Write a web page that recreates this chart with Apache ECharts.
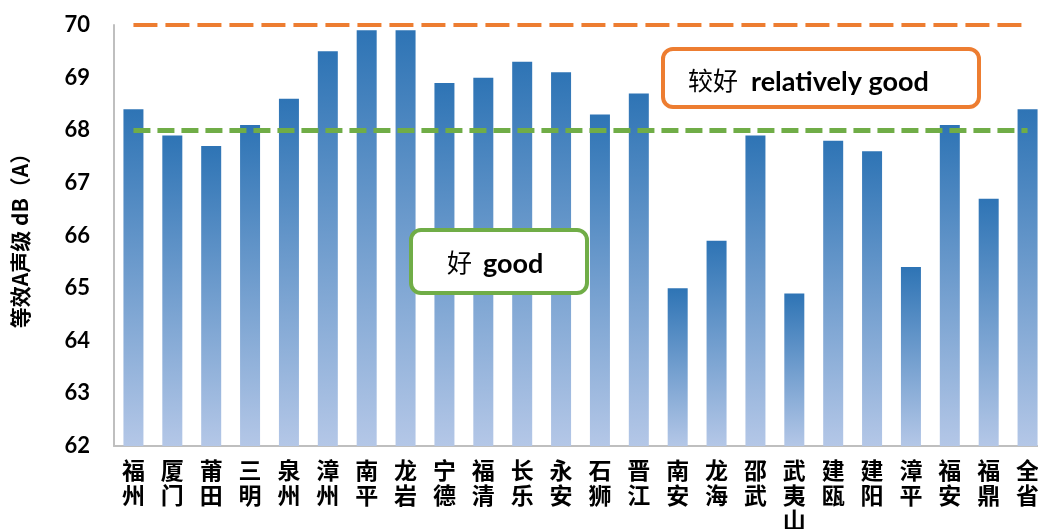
<!DOCTYPE html>
<html>
<head>
<meta charset="utf-8">
<script src="https://cdn.jsdelivr.net/npm/echarts@6/dist/echarts.min.js"></script>
<style>
  html, body { margin: 0; padding: 0; background: #fff; }
  #chart { width: 1038px; height: 529px; }
</style>
</head>
<body>
<div id="chart"></div>
<script>
// 站点与等效A声级
var cities = ['福州', '厦门', '莆田', '三明', '泉州', '漳州', '南平', '龙岩', '宁德', '福清', '长乐', '永安',
    '石狮', '晋江', '南安', '龙海', '邵武', '武夷山', '建瓯', '建阳', '漳平', '福安', '福鼎', '全省'];
var levels = [68.4, 67.9, 67.7, 68.1, 68.6, 69.5, 69.9, 69.9, 68.9, 69.0, 69.3, 69.1,
    68.3, 68.7, 65.0, 65.9, 67.9, 64.9, 67.8, 67.6, 65.4, 68.1, 66.7, 68.4];
var yTicks = [62, 63, 64, 65, 66, 67, 68, 69, 70];
var goodLimit = 68;
var fairLimit = 70;

var chart = echarts.init(document.getElementById('chart'));

var numFont = 'Lato, "Noto Sans CJK SC", sans-serif';
var cjkFont = '"Noto Sans CJK SC", sans-serif';

chart.setOption({
    animation: false,
    grid: { left: 114, right: -9, top: 25, bottom: 83, outerBoundsMode: 'none', containLabel: false },
    xAxis: {
        type: 'category',
        data: cities,
        axisLine: { lineStyle: { color: '#bfbfbf', width: 2 } },
        axisTick: { show: false },
        axisLabel: {
            interval: 0,
            margin: 12,
            color: '#000',
            fontFamily: cjkFont,
            fontWeight: 'bold',
            fontSize: 23,
            lineHeight: 25,
            verticalAlign: 'top',
            formatter: function (v) { return v.split('').join('\n'); }
        }
    },
    yAxis: {
        type: 'value',
        min: yTicks[0],
        max: yTicks[yTicks.length - 1],
        interval: 1,
        name: '等效A声级 dB（A）',
        nameLocation: 'middle',
        nameGap: 83,
        nameTextStyle: { color: '#000', fontFamily: cjkFont, fontWeight: 'bold', fontSize: 21 },
        axisLine: { show: true, lineStyle: { color: '#bfbfbf', width: 2 } },
        axisTick: { show: false },
        splitLine: { show: false },
        axisLabel: { color: '#000', fontFamily: numFont, fontWeight: 'bold', fontSize: 22, margin: 24 }
    },
    series: [{
        type: 'bar',
        data: levels,
        barWidth: 20,
        itemStyle: {
            color: new echarts.graphic.LinearGradient(0, 0, 0, 1, [
                { offset: 0, color: '#2e74b5' },
                { offset: 1, color: '#b4c7e7' }
            ])
        },
        markLine: {
            symbol: 'none',
            silent: true,
            label: { show: false },
            data: [
                [
                    { coord: [cities[0], fairLimit], lineStyle: { color: '#ed7d31', width: 4, type: [24, 8] } },
                    { coord: [cities[cities.length - 1], fairLimit] }
                ],
                [
                    { coord: [cities[0], goodLimit], lineStyle: { color: '#70ad47', width: 5, type: [17, 7] } },
                    { coord: [cities[cities.length - 1], goodLimit] }
                ]
            ]
        }
    }],
    graphic: [
        {
            type: 'group', left: 661, top: 47, z: 100,
            children: [
                { type: 'rect', z: 100, shape: { x: 0, y: 0, width: 316, height: 58, r: 10 },
                  style: { fill: '#fff', stroke: '#ed7d31', lineWidth: 4 } },
                { type: 'text', z: 101, x: 25, y: 31,
                  style: { text: '较好', fill: '#000', font: '25px "Noto Sans CJK SC"', verticalAlign: 'middle' } },
                { type: 'text', z: 101, x: 88, y: 33,
                  style: { text: 'relatively good', fill: '#000', font: 'bold 27px Lato', verticalAlign: 'middle' } }
            ]
        },
        {
            type: 'group', left: 409, top: 228, z: 100,
            children: [
                { type: 'rect', z: 100, shape: { x: 0, y: 0, width: 176, height: 63, r: 10 },
                  style: { fill: '#fff', stroke: '#70ad47', lineWidth: 4 } },
                { type: 'text', z: 101, x: 36, y: 32,
                  style: { text: '好', fill: '#000', font: '25px "Noto Sans CJK SC"', verticalAlign: 'middle' } },
                { type: 'text', z: 101, x: 72, y: 34,
                  style: { text: 'good', fill: '#000', font: 'bold 27px Lato', verticalAlign: 'middle' } }
            ]
        }
    ]
});
</script>
</body>
</html>
